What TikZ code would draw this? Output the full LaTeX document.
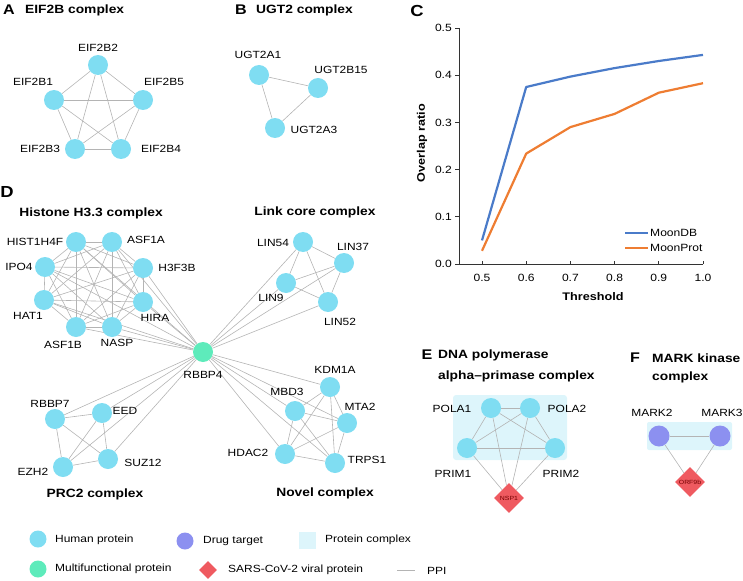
\documentclass[tikz,border=0pt]{standalone}
\usepackage{fontspec}
\setmainfont[FakeStretch=1.15]{Liberation Sans}
\usetikzlibrary{shapes.geometric,backgrounds}
\definecolor{humc}{HTML}{7FDDF2}
\definecolor{mfc}{HTML}{5EEBBB}
\definecolor{drugc}{HTML}{8C90F0}
\definecolor{virc}{HTML}{EF5A60}
\definecolor{cplxc}{HTML}{DDF5FB}
\definecolor{edgec}{HTML}{B4B4B4}
\definecolor{dbc}{HTML}{4A7BC9}
\definecolor{mpc}{HTML}{EE7D32}
\definecolor{axc}{HTML}{333333}
\begin{document}
\begin{tikzpicture}[x=1pt,y=-1pt,
 hp/.style={circle,fill=humc,minimum size=20pt,inner sep=0pt},
 mf/.style={circle,fill=mfc,minimum size=20pt,inner sep=0pt},
 dt/.style={circle,fill=drugc,minimum size=21pt,inner sep=0pt},
 vp/.style={diamond,fill=virc,minimum width=30pt,minimum height=30pt,inner sep=0pt,font=\fontsize{6}{7}\selectfont,text=red!45!black},
 ppi/.style={draw=edgec,line width=0.6pt},
 lbl/.style={font=\fontsize{10.4}{12}\selectfont,inner sep=0pt},
 ttl/.style={font=\bfseries\fontsize{12}{14}\selectfont,inner sep=0pt},
 pnl/.style={font=\bfseries\fontsize{14}{16}\selectfont,inner sep=0pt},
 pnlbig/.style={font=\bfseries\fontsize{16}{18}\selectfont,inner sep=0pt},
 tick/.style={font=\fontsize{10.5}{12}\selectfont,inner sep=0pt},
 axt/.style={font=\bfseries\fontsize{11}{13}\selectfont,inner sep=0pt},
 cplx/.style={fill=cplxc,rounded corners=3pt},
 axl/.style={draw=axc,line width=0.8pt},
 curve/.style={line width=2.2pt,line join=round}
]
\useasboundingbox (0,0) rectangle (743,580);

% ---------------- Panel A ----------------
\node[pnl] (pA) at (9,10) {A};
\node[ttl,anchor=west] (tA) at (25,10) {EIF2B complex};
\node[hp] (a2) at (98,65) {};
\node[hp] (a1) at (54,100) {};
\node[hp] (a5) at (143,100) {};
\node[hp] (a3) at (75,149) {};
\node[hp] (a4) at (121,149) {};
\node[lbl] (la2) at (98,48) {EIF2B2};
\node[lbl] (la1) at (33,82) {EIF2B1};
\node[lbl] (la5) at (164,82) {EIF2B5};
\node[lbl] (la3) at (40,149) {EIF2B3};
\node[lbl] (la4) at (161,149) {EIF2B4};

% ---------------- Panel B ----------------
\node[pnl] (pB) at (241,10) {B};
\node[ttl,anchor=west] (tB) at (256,10) {UGT2 complex};
\node[hp] (b1) at (259,75) {};
\node[hp] (b2) at (318,88) {};
\node[hp] (b3) at (275,128) {};
\node[lbl] (lb1) at (258,55) {UGT2A1};
\node[lbl] (lb2) at (341,70) {UGT2B15};
\node[lbl] (lb3) at (314,130) {UGT2A3};

% ---------------- Panel C ----------------
\node[pnlbig] (pC) at (417,11) {C};
\draw[axl] (459,28) -- (459,264) -- (703,264);
\foreach \v/\t in {0/0.0,1/0.1,2/0.2,3/0.3,4/0.4,5/0.5}{
  \draw[axl] (455,264-\v*47.2) -- (459,264-\v*47.2);
  \node[tick,anchor=east] at (452,264-\v*47.2) {\t};
}
\foreach \k/\t in {0/0.5,1/0.6,2/0.7,3/0.8,4/0.9,5/1.0}{
  \draw[axl] (482+\k*44.2,264) -- (482+\k*44.2,260.5);
  \node[tick] at (482+\k*44.2,278) {\t};
}
\node[axt] (xt) at (593,297) {Threshold};
\node[axt,rotate=90] (yt) at (422,143) {Overlap ratio};
\draw[curve,dbc] (482,240.4) -- (526.2,87) -- (570.4,76.6) -- (614.6,68.1) -- (658.8,61) -- (703,54.9);
\draw[curve,mpc] (482,250.8) -- (526.2,153.6) -- (570.4,127.1) -- (614.6,113.9) -- (658.8,92.7) -- (703,83.2);
\draw[dbc,line width=2.2pt] (625,233) -- (648,233);
\node[tick,anchor=west] (lg1) at (650,233) {MoonDB};
\draw[mpc,line width=2.2pt] (625,248) -- (648,248);
\node[tick,anchor=west] (lg2) at (650,248) {MoonProt};

% ---------------- Panel D ----------------
\node[pnlbig] (pD) at (7,192) {D};
\node[ttl] (tH) at (91,213) {Histone H3.3 complex};
\node[ttl] (tL) at (315,212) {Link core complex};
\node[ttl] (tP) at (95,494) {PRC2 complex};
\node[ttl] (tN) at (325,493) {Novel complex};

\node[mf] (rb4) at (203,352) {};
\node[lbl] (lrb4) at (203,375) {RBBP4};

% histone
\node[hp] (h1) at (76,242) {};
\node[hp] (h2) at (112,242) {};
\node[hp] (h3) at (45,267) {};
\node[hp] (h4) at (143,268) {};
\node[hp] (h5) at (44,300) {};
\node[hp] (h6) at (143,302) {};
\node[hp] (h7) at (76,327) {};
\node[hp] (h8) at (112,327) {};
\node[lbl] (lh1) at (35,242) {HIST1H4F};
\node[lbl] (lh2) at (146,240) {ASF1A};
\node[lbl] (lh3) at (19,267) {IPO4};
\node[lbl] (lh4) at (177,268) {H3F3B};
\node[lbl] (lh5) at (28,316) {HAT1};
\node[lbl] (lh6) at (155,318) {HIRA};
\node[lbl] (lh7) at (63,345) {ASF1B};
\node[lbl] (lh8) at (117,343) {NASP};

% link core
\node[hp] (l1) at (303,242) {};
\node[hp] (l2) at (344,263) {};
\node[hp] (l3) at (286,283) {};
\node[hp] (l4) at (328,302) {};
\node[lbl] (ll1) at (273,243) {LIN54};
\node[lbl] (ll2) at (353,247) {LIN37};
\node[lbl] (ll3) at (271,298) {LIN9};
\node[lbl] (ll4) at (340,322) {LIN52};

% PRC2
\node[hp] (p1) at (55,419) {};
\node[hp] (p2) at (102,413) {};
\node[hp] (p3) at (108,459) {};
\node[hp] (p4) at (63,467) {};
\node[lbl] (lp1) at (50,404) {RBBP7};
\node[lbl] (lp2) at (125,411) {EED};
\node[lbl] (lp3) at (143,463) {SUZ12};
\node[lbl] (lp4) at (33,472) {EZH2};

% novel
\node[hp] (n1) at (330,387) {};
\node[hp] (n2) at (295,411) {};
\node[hp] (n3) at (347,423) {};
\node[hp] (n4) at (285,454) {};
\node[hp] (n5) at (335,463) {};
\node[lbl] (ln1) at (335,370) {KDM1A};
\node[lbl] (ln2) at (287,392) {MBD3};
\node[lbl] (ln3) at (360,407) {MTA2};
\node[lbl] (ln4) at (248,453) {HDAC2};
\node[lbl] (ln5) at (367,460) {TRPS1};

% ---------------- Panel E ----------------
\node[pnl] (pE) at (427,355) {E};
\node[ttl,anchor=west] (tE1) at (438,355) {DNA polymerase};
\node[ttl,anchor=west] (tE2) at (438,376) {alpha–primase complex};
\node[hp] (e1) at (491,408) {};
\node[hp] (e2) at (530,408) {};
\node[hp] (e3) at (467,448) {};
\node[hp] (e4) at (555,448) {};
\node[vp] (nsp) at (509,498) {NSP1};
\node[lbl] (le1) at (452,409) {POLA1};
\node[lbl] (le2) at (567,409) {POLA2};
\node[lbl] (le3) at (453,474) {PRIM1};
\node[lbl] (le4) at (561,474) {PRIM2};

% ---------------- Panel F ----------------
\node[pnl] (pF) at (635,358) {F};
\node[ttl,anchor=west] (tF1) at (652,358) {MARK kinase};
\node[ttl,anchor=west] (tF2) at (652,377) {complex};
\node[dt] (m2) at (659,436) {};
\node[dt] (m3) at (720,436) {};
\node[vp] (orf) at (690,482) {ORF9b};
\node[lbl] (lm2) at (652,413) {MARK2};
\node[lbl] (lm3) at (722,413) {MARK3};

% ---------------- Legend ----------------
\node[circle,fill=humc,minimum size=17pt,inner sep=0pt] (gh) at (38,539) {};
\node[lbl,anchor=west] (tgh) at (55,540) {Human protein};
\node[circle,fill=drugc,minimum size=17pt,inner sep=0pt] (gd) at (185,541) {};
\node[lbl,anchor=west] (tgd) at (203,541) {Drug target};
\node[fill=cplxc,minimum size=17pt,inner sep=0pt] (gc) at (307,540) {};
\node[lbl,anchor=west] (tgc) at (325,540) {Protein complex};
\node[circle,fill=mfc,minimum size=17pt,inner sep=0pt] (gm) at (38,569) {};
\node[lbl,anchor=west] (tgm) at (55,569) {Multifunctional protein};
\node[diamond,fill=virc,minimum width=18pt,minimum height=18pt,inner sep=0pt] (gv) at (208,570) {};
\node[lbl,anchor=west] (tgv) at (228,570) {SARS-CoV-2 viral protein};
\coordinate (gp1) at (397,570);
\coordinate (gp2) at (415,570);
\node[lbl,anchor=west] (tgp) at (427,571) {PPI};

% ---------------- Background: complexes and edges ----------------
\begin{scope}[on background layer]
\fill[cplxc,rounded corners=3pt] (453,395) rectangle (567,460);
\fill[cplxc,rounded corners=2pt] (647,422) rectangle (732,450);
\draw[ppi] (gp1) -- (gp2);
% A
\foreach \u/\w in {a1/a2,a1/a3,a1/a4,a1/a5,a2/a3,a2/a4,a2/a5,a3/a4,a3/a5,a4/a5}
  \draw[ppi] (\u) -- (\w);
% B
\foreach \u/\w in {b1/b2,b1/b3,b2/b3}
  \draw[ppi] (\u) -- (\w);
% histone complete
\foreach \u/\w in {h1/h2,h1/h3,h1/h4,h1/h5,h1/h6,h1/h7,h1/h8,
                   h2/h3,h2/h4,h2/h5,h2/h6,h2/h7,h2/h8,
                   h3/h4,h3/h5,h3/h6,h3/h7,h3/h8,
                   h4/h5,h4/h6,h4/h7,h4/h8,
                   h5/h6,h5/h7,h5/h8,
                   h6/h7,h6/h8,h7/h8}
  \draw[ppi] (\u) -- (\w);
% link core
\foreach \u/\w in {l1/l2,l1/l3,l1/l4,l2/l3,l2/l4,l3/l4}
  \draw[ppi] (\u) -- (\w);
% PRC2
\foreach \u/\w in {p1/p2,p1/p3,p1/p4,p2/p3,p2/p4,p3/p4}
  \draw[ppi] (\u) -- (\w);
% novel
\foreach \u/\w in {n1/n2,n1/n3,n1/n4,n1/n5,n2/n3,n2/n4,n2/n5,n3/n4,n3/n5,n4/n5}
  \draw[ppi] (\u) -- (\w);
% RBBP4 hub
\foreach \w in {h1,h2,h3,h4,h5,h6,h7,h8,l1,l2,l3,l4,p1,p2,p3,p4,n1,n2,n3,n4,n5}
  \draw[ppi] (rb4) -- (\w);
% E
\foreach \u/\w in {e1/e2,e1/e3,e1/e4,e2/e3,e2/e4,e3/e4,nsp/e1,nsp/e2,nsp/e3,nsp/e4}
  \draw[ppi] (\u) -- (\w);
% F
\foreach \u/\w in {m2/m3,orf/m2,orf/m3}
  \draw[ppi] (\u) -- (\w);
\end{scope}
\end{tikzpicture}
\end{document}
